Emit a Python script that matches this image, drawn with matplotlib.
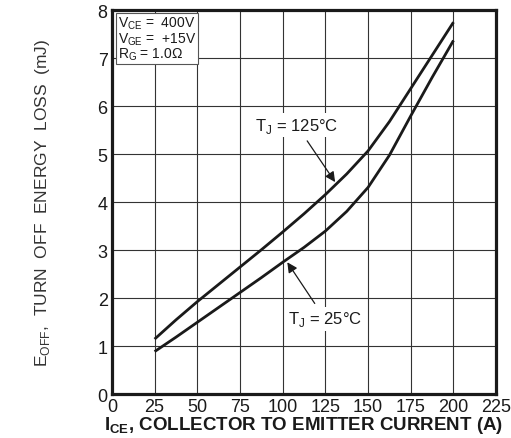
import numpy as np
import matplotlib.pyplot as plt

plt.rcParams['font.family'] = ['Liberation Sans', 'DejaVu Sans']
plt.rcParams['mathtext.fontset'] = 'custom'
plt.rcParams['mathtext.rm'] = 'Liberation Sans'
plt.rcParams['mathtext.bf'] = 'Liberation Sans:bold'

# Turn-off energy loss vs collector current, read at 12.5 A steps
ice = [25, 37.5, 50, 62.5, 75, 87.5, 100, 112.5, 125, 137.5, 150, 162.5, 175, 187.5, 200]
eoff_125c = [1.15, 1.55, 1.93, 2.29, 2.65, 3.01, 3.38, 3.76, 4.16, 4.59, 5.07, 5.68, 6.37, 7.06, 7.75]
eoff_25c = [0.89, 1.19, 1.50, 1.81, 2.12, 2.43, 2.75, 3.06, 3.40, 3.81, 4.31, 4.98, 5.80, 6.60, 7.37]

xticks = [0, 25, 50, 75, 100, 125, 150, 175, 200, 225]
yticks = [0, 1, 2, 3, 4, 5, 6, 7, 8]

ink = '#1a1a1a'

fig = plt.figure(figsize=(5.11, 4.39), dpi=100)
ax = fig.add_axes([0.219, 0.0995, 0.752, 0.875])

for e in (eoff_125c, eoff_25c):
    ax.plot(ice, e, color=ink, lw=2.0, zorder=3,
            solid_capstyle='butt', solid_joinstyle='round')

ax.set_xlim(0, 225)
ax.set_ylim(0, 8)
ax.set_xticks(xticks)
ax.set_yticks(yticks)
ax.grid(True, color='#333333', lw=0.8)
ax.tick_params(length=0, labelsize=13, pad=3, colors=ink)
for s in ax.spines.values():
    s.set_linewidth(2.3)
    s.set_color(ink)

ax.set_xlabel(r'I$_{\mathbf{CE}}$, COLLECTOR TO EMITTER CURRENT (A)',
              fontsize=13.5, fontweight='bold', labelpad=-1, color=ink)
ax.set_ylabel(r'E$_{\mathrm{OFF}}$,  TURN  OFF  ENERGY  LOSS  (mJ)',
              fontsize=12.5, labelpad=33, color='#333333')

# test conditions box
ax.text(3.5, 7.9, 'V$_{\\mathrm{CE}}$ =  400V\nV$_{\\mathrm{GE}}$ =  +15V\nR$_{\\mathrm{G}}$ = 1.0Ω',
        fontsize=10, va='top', ha='left', linespacing=0.92, color=ink,
        bbox=dict(boxstyle='square,pad=0.12', fc='white', ec='#555555', lw=0.8), zorder=4)

# curve labels with arrows
ax.annotate('T$_{\\mathrm{J}}$ = 125°C', xy=(130.7, 4.42), xytext=(108.2, 5.6),
            fontsize=12, ha='center', va='center', color=ink,
            bbox=dict(boxstyle='square,pad=0.15', fc='white', ec='none'),
            arrowprops=dict(arrowstyle='-|>', color=ink, lw=0.9,
                            mutation_scale=15, shrinkA=3, shrinkB=0), zorder=4)
ax.annotate('T$_{\\mathrm{J}}$ = 25°C', xy=(102.7, 2.75), xytext=(124.8, 1.57),
            fontsize=12, ha='center', va='center', color=ink,
            bbox=dict(boxstyle='square,pad=0.15', fc='white', ec='none'),
            arrowprops=dict(arrowstyle='-|>', color=ink, lw=0.9,
                            mutation_scale=15, shrinkA=3, shrinkB=0), zorder=4)

fig.savefig('out.png', dpi=100)
